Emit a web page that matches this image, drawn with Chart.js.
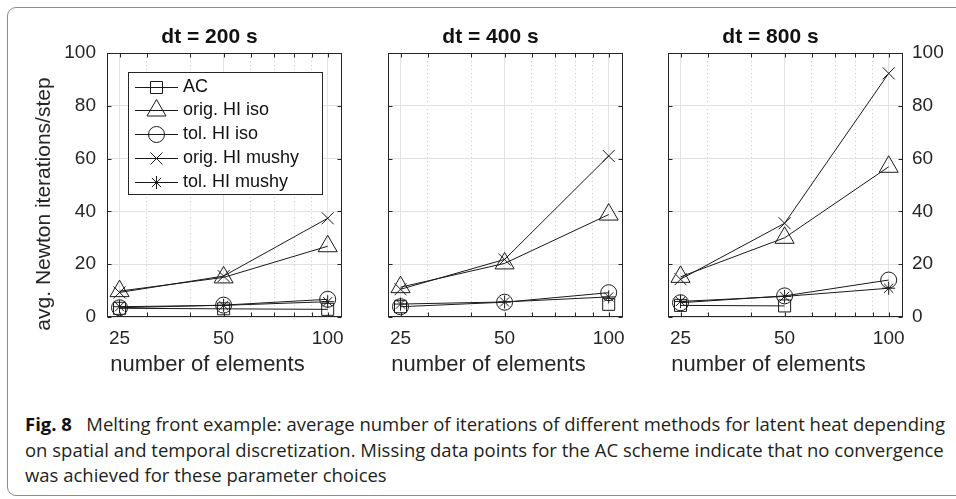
<!DOCTYPE html>
<html>
<head>
<meta charset="utf-8">
<script src="https://cdn.jsdelivr.net/npm/chart.js@4.4.1/dist/chart.umd.min.js"></script>
<style>
  body { margin: 0; background: #fff; }
  #figure { position: relative; width: 956px; height: 499px; overflow: hidden; background: #fff; }
  #frame { position: absolute; left: 7px; top: 7px; width: 990px; height: 487px; border: 1px solid #8c8c8c; border-radius: 9px; }
  .panel { position: absolute; top: 0; }
  .caption { position: absolute; left: 25px; font-family: "Open Sans", sans-serif; font-size: 18px; line-height: 25.5px; color: #231f20; white-space: nowrap; transform-origin: 0 0; }
  .caption b { font-weight: 700; color: #111; }
</style>
</head>
<body>
<div id="figure">
  <div id="frame"></div>
  <div class="panel" style="left:0px;width:360px"><canvas id="dt200" width="360" height="390"></canvas></div>
  <div class="panel" style="left:370px;width:270px"><canvas id="dt400" width="270" height="390"></canvas></div>
  <div class="panel" style="left:650px;width:306px"><canvas id="dt800" width="306" height="390"></canvas></div>
  <div class="caption" id="cap1" style="top:412px"><b>Fig. 8</b>&nbsp;&nbsp;&nbsp;Melting front example: average number of iterations of different methods for latent heat depending</div>
  <div class="caption" id="cap2" style="top:437.5px">on spatial and temporal discretization. Missing data points for the AC scheme indicate that no convergence</div>
  <div class="caption" id="cap3" style="top:463px">was achieved for these parameter choices</div>
</div>

<script>
// x positions (number of elements) and axis ticks
const nElements = [25, 50, 100];
const xTickLabels = [25, 50, 100];
const xMinorTicks = [30, 40, 60, 70, 80, 90];
const yTicks = [0, 20, 40, 60, 80, 100];

const seriesNames = ["AC", "orig. HI iso", "tol. HI iso", "orig. HI mushy", "tol. HI mushy"];
const stepTitles = ["dt = 200 s", "dt = 400 s", "dt = 800 s"];

// dt = 200 s
const ac200 = [3.3, 3.1, 2.9];
const origIso200 = [9.8, 15.0, 26.8];
const tolIso200 = [3.5, 4.5, 6.7];
const origMushy200 = [9.3, 15.5, 37.4];
const tolMushy200 = [3.9, 4.4, 5.8];

// dt = 400 s (AC did not converge for 50 elements)
const ac400 = [3.9, null, 4.8];
const origIso400 = [11.3, 20.3, 38.8];
const tolIso400 = [3.9, 5.6, 9.2];
const origMushy400 = [10.5, 21.8, 61.0];
const tolMushy400 = [4.9, 5.7, 7.6];

// dt = 800 s (AC did not converge for 100 elements)
const ac800 = [4.4, 4.2, null];
const origIso800 = [15.2, 30.0, 56.9];
const tolIso800 = [5.4, 8.0, 14.0];
const origMushy800 = [14.3, 35.5, 92.3];
const tolMushy800 = [5.9, 7.8, 10.9];

const markerStyles = ["rect", "triangle", "circle", "crossRot", "star"];
const markerSizes = [8.5, 11, 8, 8.5, 6.5];

const FONT = '"Liberation Sans", Arial, Helvetica, sans-serif';
const lineColor = "#1a1a1a";
const axisColor = "#262626";
const majorGrid = "#e2e2e2";
const minorGrid = "#cbcbcb";

Chart.defaults.font.family = FONT;
Chart.defaults.color = axisColor;

// box with inward tick marks on all four sides, like the original plot
const boxPlugin = {
  id: "matlabBox",
  afterDraw(chart) {
    const { ctx, chartArea: a, scales } = chart;
    const l = Math.round(a.left) + 0.5, r = Math.round(a.right) - 0.5;
    const t = Math.round(a.top) + 0.5, b = Math.round(a.bottom) - 0.5;
    ctx.save();
    ctx.strokeStyle = axisColor;
    ctx.lineWidth = 1;
    ctx.strokeRect(l, t, r - l, b - t);
    ctx.beginPath();
    scales.x.ticks.forEach((tk) => {
      const px = Math.round(scales.x.getPixelForValue(tk.value)) + 0.5;
      ctx.moveTo(px, b); ctx.lineTo(px, b - 4);
      ctx.moveTo(px, t); ctx.lineTo(px, t + 4);
    });
    scales.y.ticks.forEach((tk) => {
      const py = Math.round(scales.y.getPixelForValue(tk.value)) + 0.5;
      ctx.moveTo(l, py); ctx.lineTo(l + 4, py);
      ctx.moveTo(r, py); ctx.lineTo(r - 4, py);
    });
    ctx.stroke();
    ctx.restore();
  },
};

// panel title, x label and (first panel) y label
const panelText = {
  id: "panelText",
  afterDraw(chart, args, opts) {
    const { ctx, chartArea: a } = chart;
    const cx = (a.left + a.right) / 2;
    ctx.save();
    ctx.fillStyle = "#111";
    ctx.textAlign = "center";
    ctx.font = "bold 21px " + FONT;
    ctx.textBaseline = "alphabetic";
    ctx.fillText(opts.title, cx - 15, 43);
    ctx.font = "22px " + FONT;
    ctx.textBaseline = "middle";
    ctx.fillStyle = axisColor;
    ctx.fillText(opts.xLabel, cx - 17, 365);
    if (opts.yLabel) {
      ctx.translate(44, 204);
      ctx.rotate(-Math.PI / 2);
      ctx.font = "21px " + FONT;
      ctx.fillText(opts.yLabel, 0, 0);
    }
    ctx.restore();
  },
};

// legend box inside the first panel
const legendBox = {
  id: "legendBox",
  afterDraw(chart, args, opts) {
    if (!opts.show) return;
    const { ctx, chartArea: a } = chart;
    const bx = Math.round(a.left) + 21, by = Math.round(a.top) + 19;
    const bw = 194, bh = 122;
    ctx.save();
    ctx.fillStyle = "#fff";
    ctx.fillRect(bx, by, bw, bh);
    ctx.strokeStyle = axisColor;
    ctx.lineWidth = 1;
    ctx.strokeRect(bx + 0.5, by + 0.5, bw, bh);
    ctx.font = "18px " + FONT;
    ctx.textBaseline = "middle";
    chart.data.datasets.forEach((ds, i) => {
      const cy = Math.round(by + 14.7 + i * 23.75) + 0.5;
      ctx.strokeStyle = lineColor;
      ctx.beginPath();
      ctx.moveTo(bx + 7, cy);
      ctx.lineTo(bx + 50, cy);
      ctx.stroke();
      ctx.fillStyle = "rgba(0,0,0,0)";
      Chart.helpers.drawPoint(ctx, { pointStyle: ds.pointStyle, radius: ds.pointRadius, rotation: 0, borderWidth: 1 }, bx + 28.5, cy);
      ctx.fillStyle = "#111";
      ctx.fillText(ds.label, bx + 55, cy);
    });
    ctx.restore();
  },
};

function buildDatasets(values) {
  return seriesNames.map((name, i) => ({
    label: name,
    data: nElements.map((n, j) => ({ x: n, y: values[i][j] })),
    borderColor: lineColor,
    borderWidth: 1,
    pointStyle: markerStyles[i],
    pointRadius: markerSizes[i],
    pointHoverRadius: markerSizes[i],
    pointBorderColor: lineColor,
    pointBackgroundColor: "rgba(0,0,0,0)",
    pointBorderWidth: 1,
    spanGaps: false,
    tension: 0,
  }));
}

function makeChart(canvasId, title, values, side, padding) {
  const isMinor = (c) => c.tick && !xTickLabels.includes(c.tick.value);
  return new Chart(document.getElementById(canvasId), {
    type: "line",
    data: { datasets: buildDatasets(values) },
    options: {
      responsive: false,
      animation: false,
      devicePixelRatio: 1,
      layout: { padding: padding },
      plugins: {
        legend: { display: false },
        tooltip: { enabled: false },
        panelText: {
          title: title,
          xLabel: "number of elements",
          yLabel: side === "left" ? "avg. Newton iterations/step" : "",
        },
        legendBox: { show: side === "left" },
      },
      scales: {
        x: {
          type: "logarithmic",
          min: 23,
          max: 110,
          afterBuildTicks: (s) => {
            s.ticks = xTickLabels.concat(xMinorTicks).sort((p, q) => p - q).map((v) => ({ value: v }));
          },
          afterFit: (s) => { s.height = 73; },
          ticks: {
            autoSkip: false,
            maxRotation: 0,
            padding: 10,
            font: { size: 19 },
            color: axisColor,
            callback: (v) => (xTickLabels.includes(v) ? String(v) : ""),
          },
          grid: {
            drawTicks: false,
            lineWidth: 1,
            color: (c) => (isMinor(c) ? minorGrid : majorGrid),
          },
          border: {
            display: false,
            dash: (c) => (isMinor(c) ? [1, 3] : []),
          },
        },
        y: {
          min: 0,
          max: 100,
          position: side === "right" ? "right" : "left",
          afterBuildTicks: (s) => { s.ticks = yTicks.map((v) => ({ value: v })); },
          afterFit: (s) => { s.width = side === "left" ? 107 : side === "right" ? 53 : 0; },
          ticks: {
            display: side !== "none",
            padding: side === "right" ? 9 : 11,
            font: { size: 19 },
            color: axisColor,
          },
          grid: { drawTicks: false, color: majorGrid, lineWidth: 1 },
          border: { display: false },
        },
      },
    },
    plugins: [panelText, legendBox, boxPlugin],
  });
}

makeChart("dt200", stepTitles[0], [ac200, origIso200, tolIso200, origMushy200, tolMushy200], "left",
  { top: 53, left: 0, right: 18, bottom: 0 });
makeChart("dt400", stepTitles[1], [ac400, origIso400, tolIso400, origMushy400, tolMushy400], "none",
  { top: 53, left: 18, right: 17, bottom: 0 });
makeChart("dt800", stepTitles[2], [ac800, origIso800, tolIso800, origMushy800, tolMushy800], "right",
  { top: 53, left: 18, right: 0, bottom: 0 });

// squeeze caption lines so the first one spans the same width as in the figure
function fitCaption() {
  const first = document.getElementById("cap1");
  const w = first.getBoundingClientRect().width;
  const k = 920 / w;
  ["cap1", "cap2", "cap3"].forEach((id) => {
    document.getElementById(id).style.transform = "scaleX(" + k + ")";
  });
}
if (document.fonts && document.fonts.ready) {
  document.fonts.ready.then(fitCaption);
} else {
  fitCaption();
}
</script>
</body>
</html>
